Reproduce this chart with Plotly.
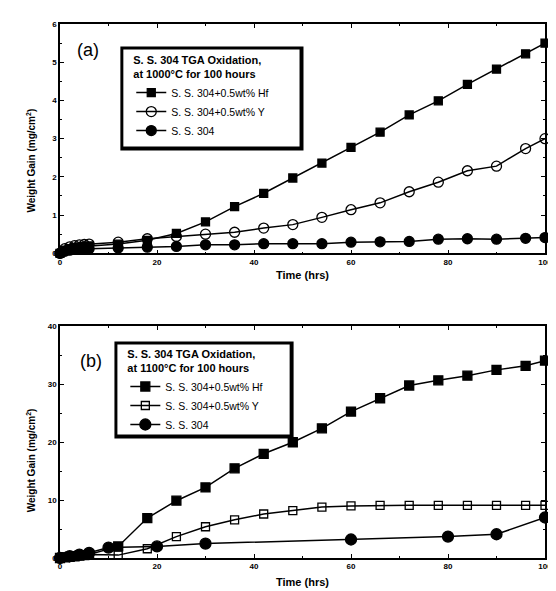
import plotly.graph_objects as go

# ---------------- data ----------------
time_a = [0, 1, 2, 3, 4, 5, 6, 12, 18, 24, 30, 36, 42, 48, 54, 60, 66, 72, 78, 84, 90, 96, 100]
hf_a = [0, 0.08, 0.12, 0.15, 0.17, 0.18, 0.19, 0.24, 0.34, 0.52, 0.82, 1.22, 1.57, 1.97, 2.36,
        2.77, 3.17, 3.62, 3.99, 4.42, 4.82, 5.22, 5.5]
yt_a = [0, 0.12, 0.17, 0.2, 0.22, 0.23, 0.24, 0.29, 0.38, 0.44, 0.5, 0.55, 0.66, 0.75, 0.94,
        1.14, 1.32, 1.61, 1.86, 2.16, 2.28, 2.74, 3.0]
ss_a = [0, 0.05, 0.08, 0.1, 0.11, 0.12, 0.12, 0.14, 0.16, 0.18, 0.22, 0.22, 0.25, 0.25, 0.25,
        0.29, 0.3, 0.31, 0.37, 0.38, 0.37, 0.39, 0.41]

time_b = [0, 1, 2, 3, 4, 5, 6, 12, 18, 24, 30, 36, 42, 48, 54, 60, 66, 72, 78, 84, 90, 96, 100]
hf_b = [0, 0.1, 0.2, 0.3, 0.4, 0.5, 0.6, 2.0, 6.9, 9.9, 12.2, 15.5, 18.0, 20.0, 22.4, 25.3,
        27.6, 29.8, 30.7, 31.5, 32.5, 33.2, 34.1]
yt_b = [0, 0.2, 0.3, 0.4, 0.5, 0.6, 0.6, 0.5, 1.6, 3.7, 5.4, 6.6, 7.6, 8.2, 8.8, 9.0,
        9.1, 9.1, 9.1, 9.1, 9.1, 9.1, 9.1]
time_ss_b = [0, 2, 4, 6, 10, 20, 30, 60, 80, 90, 100]
ss_b = [0, 0.3, 0.6, 0.9, 1.8, 2.0, 2.5, 3.2, 3.7, 4.1, 7.0]

names = ["S. S. 304+0.5wt% Hf", "S. S. 304+0.5wt% Y", "S. S. 304"]
title_a = "<b>S. S. 304 TGA Oxidation,<br>at 1000°C for 100 hours</b>"
title_b = "<b>S. S. 304 TGA Oxidation,<br>at 1100°C for 100 hours</b>"
xlabel = "<b>Time (hrs)</b>"
ylabel = "<b>Weight Gain (mg/cm<sup>2</sup>)</b>"

# ---------------- layout helpers ----------------
W, H = 556, 591
ML, MR, MT, MB = 52, 14, 13, 33
PW, PH = W - ML - MR, H - MT - MB
FONT = "Liberation Sans, Arial, sans-serif"


def px(x):
    return (x - ML) / PW


def py(y):
    return (H - MB - y) / PH


fig = go.Figure()
line = dict(color="black", width=1.5)


def add(x, y, name, symbol, size, xa, ya, leg):
    fig.add_trace(go.Scatter(
        x=x, y=y, name=name, mode="lines+markers", line=line,
        marker=dict(symbol=symbol, size=size, color="black",
                    line=dict(color="black", width=1.3)),
        xaxis=xa, yaxis=ya, legend=leg, cliponaxis=False))


add(time_a, hf_a, names[0], "square", 8, "x", "y", "legend")
add(time_a, yt_a, names[1], "circle-open", 10, "x", "y", "legend")
add(time_a, ss_a, names[2], "circle", 10, "x", "y", "legend")
add(time_b, hf_b, names[0], "square", 9, "x2", "y2", "legend2")
add(time_b, yt_b, names[1], "square-open", 8, "x2", "y2", "legend2")
add(time_ss_b, ss_b, names[2], "circle", 11, "x2", "y2", "legend2")

tickfont = dict(family=FONT, size=8, color="black", weight="bold")
common = dict(showline=True, linecolor="black", linewidth=1.5, mirror="ticks",
              ticks="inside", ticklen=4, tickwidth=1.2, tickcolor="black",
              showgrid=False, zeroline=False, tickfont=tickfont)

fig.update_layout(
    width=W, height=H,
    margin=dict(l=ML, r=MR, t=MT, b=MB),
    paper_bgcolor="white", plot_bgcolor="white",
    font=dict(family=FONT, color="black"),
    xaxis=dict(domain=[0, 1], anchor="y", range=[0, 100], dtick=20,
               minor=dict(ticks="inside", ticklen=2, dtick=10, tickcolor="black"),
               title=dict(text=xlabel, font=dict(size=11), standoff=6), **common),
    yaxis=dict(domain=[py(247), 1], anchor="x", range=[0, 6], dtick=1,
               minor=dict(ticks="inside", ticklen=2, dtick=0.5, tickcolor="black"), **common),
    xaxis2=dict(domain=[0, 1], anchor="y2", range=[0, 100], dtick=20,
                minor=dict(ticks="inside", ticklen=2, dtick=10, tickcolor="black"),
                title=dict(text=xlabel, font=dict(size=11), standoff=8), **common),
    yaxis2=dict(domain=[0, py(321.7)], anchor="x2", range=[0, 40], dtick=10,
                minor=dict(ticks="inside", ticklen=2, dtick=5, tickcolor="black"), **common),
    legend=dict(x=px(124), y=py(39), xanchor="left", yanchor="top",
                bgcolor="rgba(0,0,0,0)", borderwidth=0,
                font=dict(family=FONT, size=10.5, color="black"),
                title=dict(text=title_a, font=dict(family=FONT, size=11)),
                itemwidth=30, tracegroupgap=0),
    legend2=dict(x=px(118), y=py(339), xanchor="left", yanchor="top",
                 bgcolor="rgba(0,0,0,0)", borderwidth=0,
                 font=dict(family=FONT, size=10.5, color="black"),
                 title=dict(text=title_b, font=dict(family=FONT, size=11)),
                 itemwidth=30, tracegroupgap=0),
    showlegend=True,
)

# legend boxes with shadow
for (x0, y0, x1, y1) in [(113, 36, 298, 142), (107, 337, 288, 436)]:
    fig.add_shape(type="rect", xref="paper", yref="paper", layer="below",
                  x0=px(x0), x1=px(x1), y0=py(y1), y1=py(y0),
                  fillcolor="black", line=dict(width=0))
    fig.add_shape(type="rect", xref="paper", yref="paper", layer="below",
                  x0=px(x0 + 3), x1=px(x1 - 4), y0=py(y1 - 4), y1=py(y0 + 3),
                  fillcolor="white", line=dict(width=0))

annos = [
    dict(text="(a)", x=px(80), y=py(40), font=dict(size=18)),
    dict(text="(b)", x=px(83), y=py(357), font=dict(size=18)),
    dict(text=ylabel, x=px(23), y=py(152), textangle=-90, font=dict(size=10)),
    dict(text=ylabel, x=px(23), y=py(458), textangle=-90, font=dict(size=10)),
]
for a in annos:
    fig.add_annotation(xref="paper", yref="paper", showarrow=False,
                       xanchor="center", yanchor="middle", **a)

fig.write_html("out.html")
